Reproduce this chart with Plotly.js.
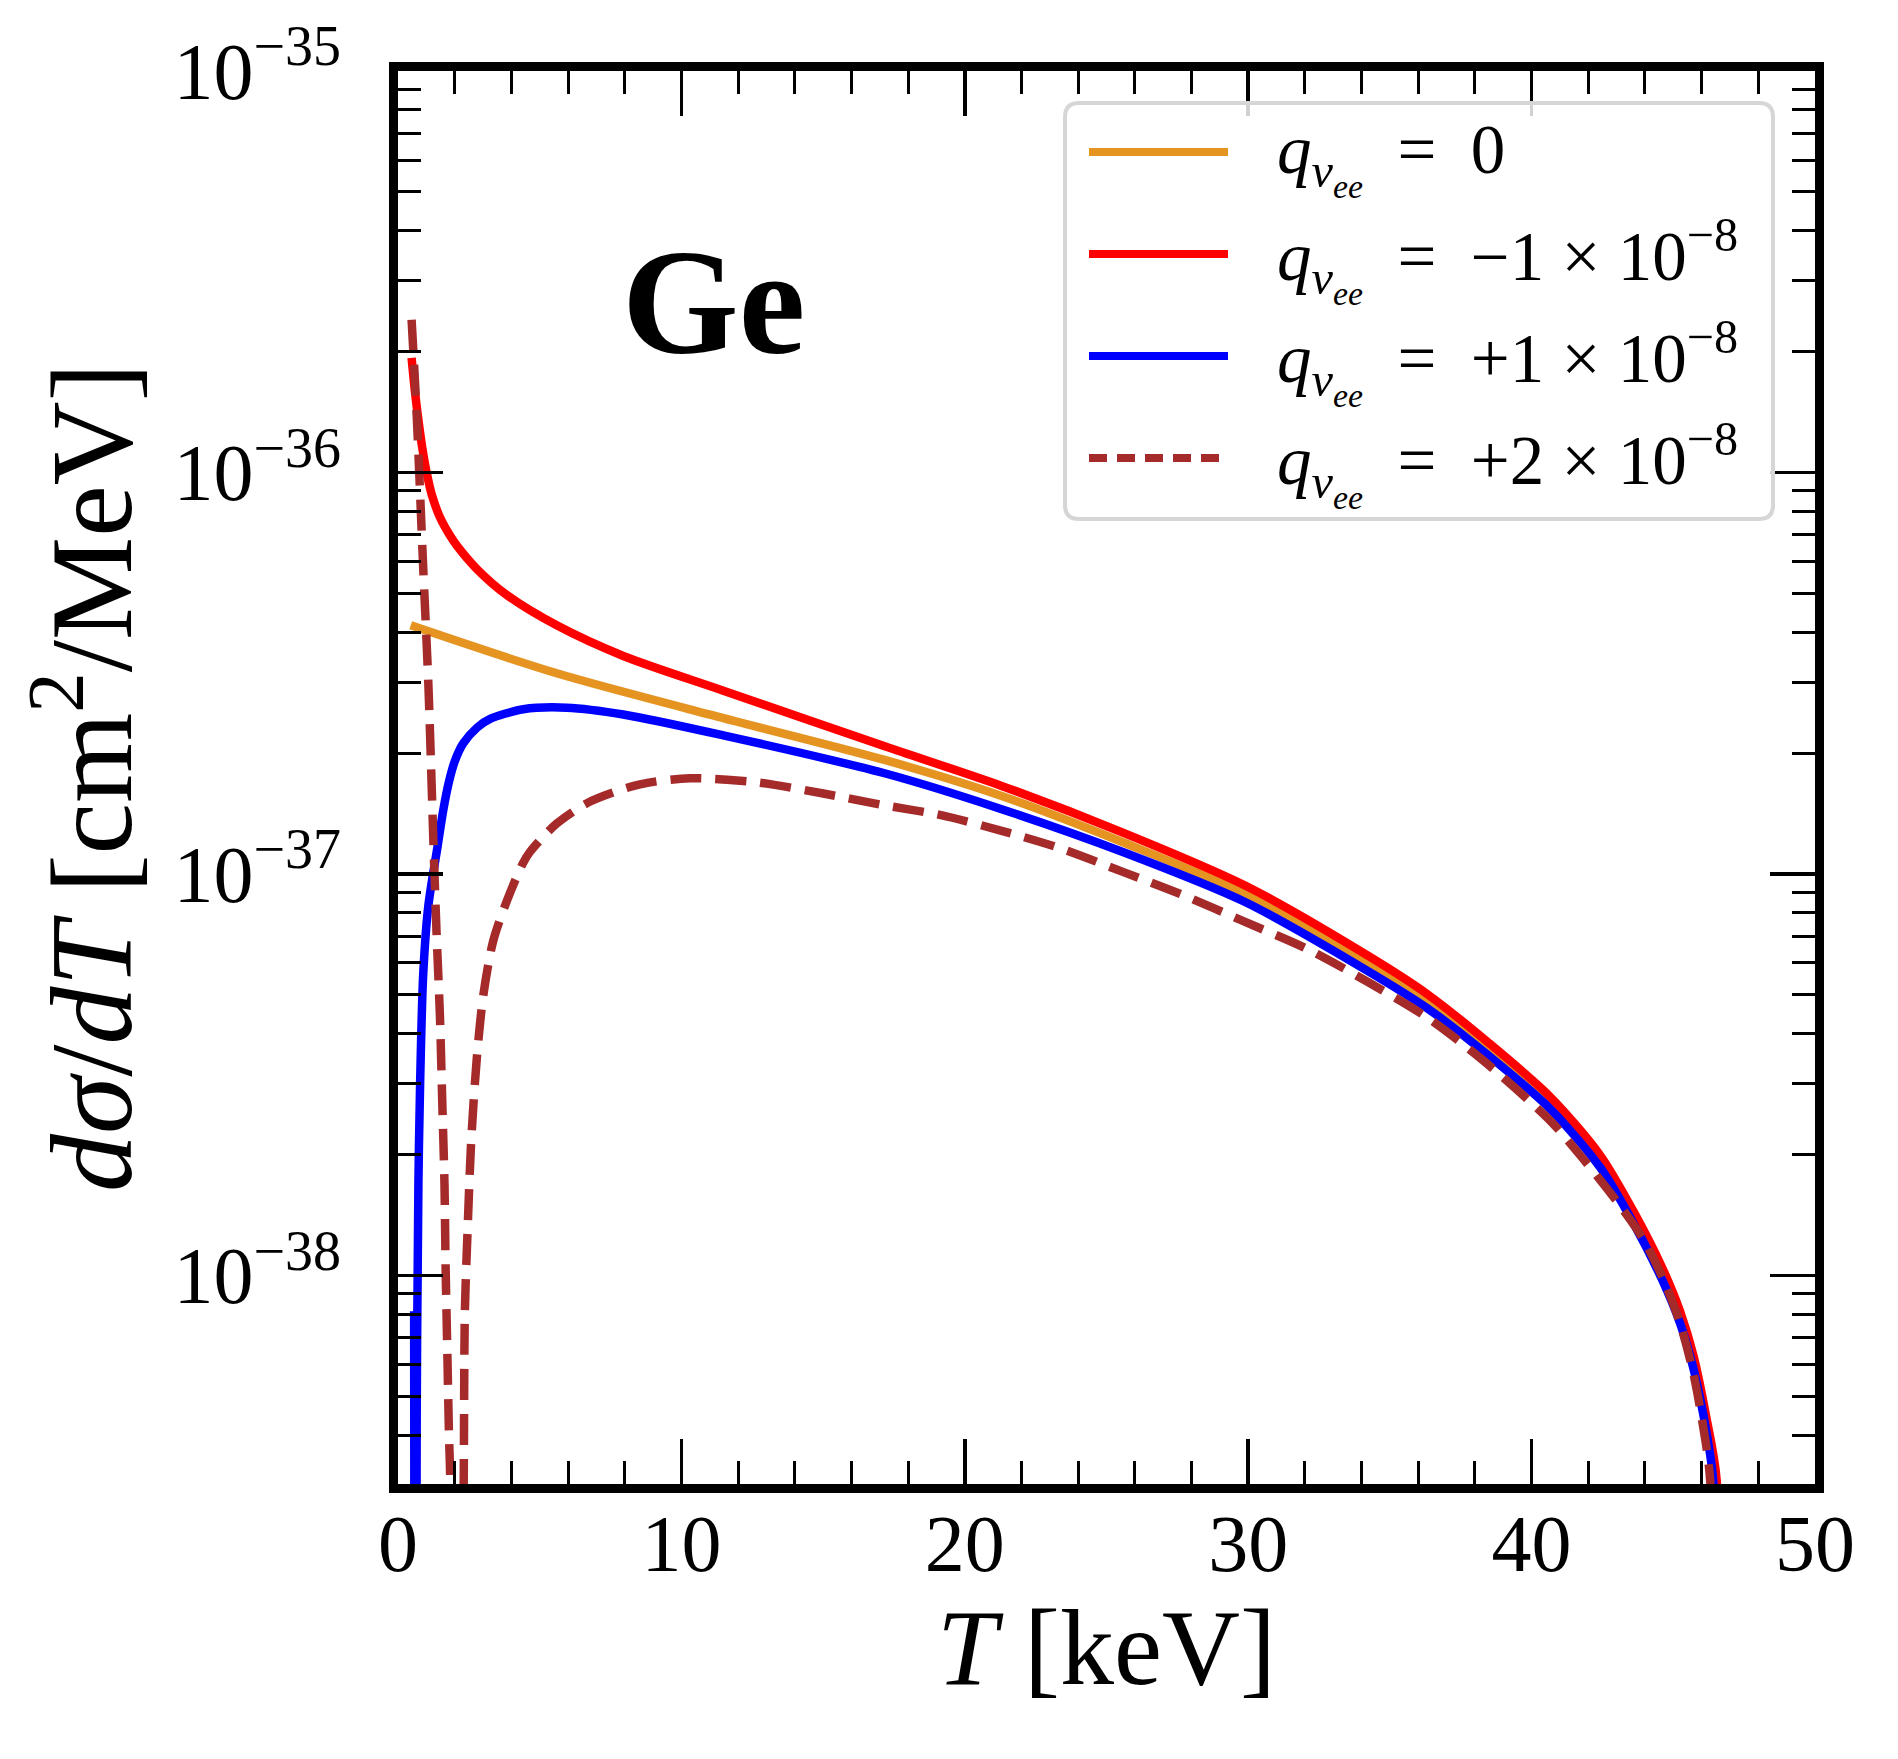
<!DOCTYPE html>
<html>
<head>
<meta charset="utf-8">
<script src="https://cdn.plot.ly/plotly-3.0.1.min.js"></script>
<style>html,body{margin:0;padding:0;background:#fff;}#chart{width:1898px;height:1759px;}</style>
</head>
<body>
<div id="chart"></div>
<script>
// ---- data (T in keV, dσ/dT in cm^2/MeV) ----
const seriesNames = ["q_0", "q_-1e-8", "q_+1e-8", "q_+2e-8"];
const legendLabels = [
  "<i>q</i><sub><i>ν<sub>ee</sub></i></sub>&nbsp; = &nbsp;0",
  "<i>q</i><sub><i>ν<sub>ee</sub></i></sub>&nbsp; = &nbsp;−1 × 10<sup>−8</sup>",
  "<i>q</i><sub><i>ν<sub>ee</sub></i></sub>&nbsp; = &nbsp;+1 × 10<sup>−8</sup>",
  "<i>q</i><sub><i>ν<sub>ee</sub></i></sub>&nbsp; = &nbsp;+2 × 10<sup>−8</sup>"
];

const tOrange = [0.45, 5.6, 11.48, 17.2, 21.3, 25.6, 29.89, 34.18, 36.33, 38.47, 40.65, 42.41, 43.59, 44.6, 45.24, 45.71, 46.18, 46.5, 46.65];
const sigOrange = [4.16e-37, 3.16e-37, 2.443e-37, 1.919e-37, 1.563e-37, 1.197e-37, 8.91e-38, 5.98e-38, 4.79e-38, 3.64e-38, 2.67e-38, 1.91e-38, 1.387e-38, 1.005e-38, 7.80e-39, 6.05e-39, 4.19e-39, 3.02e-39, 1e-40];

const tRed = [0.48, 0.6, 0.72, 0.85, 1.01, 1.19, 1.48, 1.84, 2.07, 2.78, 3.84, 5.6, 7.95, 11.48, 17.2, 21.3, 25.6, 29.89, 34.18, 36.33, 38.47, 40.65, 42.41, 43.59, 44.6, 45.24, 45.71, 46.18, 46.53, 46.65];
const sigRed = [1.93e-36, 1.585e-36, 1.35e-36, 1.16e-36, 1.0e-36, 8.81e-37, 7.73e-37, 6.95e-37, 6.58e-37, 5.75e-37, 4.95e-37, 4.16e-37, 3.49e-37, 2.86e-37, 2.075e-37, 1.656e-37, 1.265e-37, 9.35e-38, 6.28e-38, 5.01e-38, 3.80e-38, 2.786e-38, 1.995e-38, 1.445e-38, 1.047e-38, 8.13e-39, 6.31e-39, 4.37e-39, 3.09e-39, 1e-40];

const tBlue = [0.57, 0.615, 0.66, 0.72, 0.78, 0.89, 1.07, 1.4, 1.6, 1.8, 2.0, 2.3, 2.8, 3.25, 4.42, 5.95, 7.95, 11.48, 17.2, 21.3, 25.6, 29.89, 34.18, 36.33, 38.47, 40.65, 42.41, 43.59, 44.6, 45.24, 45.71, 46.18, 46.42, 46.6];
const sigBlue = [8.13e-39, 3.2e-41, 4.47e-39, 1.69e-38, 3.0e-38, 5.62e-38, 8.32e-38, 1.175e-37, 1.445e-37, 1.698e-37, 1.905e-37, 2.113e-37, 2.317e-37, 2.432e-37, 2.57e-37, 2.594e-37, 2.495e-37, 2.213e-37, 1.778e-37, 1.449e-37, 1.132e-37, 8.51e-38, 5.75e-38, 4.62e-38, 3.53e-38, 2.60e-38, 1.86e-38, 1.35e-38, 9.77e-39, 7.59e-39, 5.86e-39, 4.03e-39, 3.02e-39, 1e-40];

const tDash = [0.48, 0.66, 0.89, 1.07, 1.25, 1.36, 1.48, 1.56, 1.64, 1.68, 1.74, 1.8, 1.84, 2.08, 2.32, 2.36, 2.46, 2.58, 2.78, 3.01, 3.36, 3.86, 4.4, 4.66, 5.6, 6.78, 8.54, 10.31, 12.66, 15.01, 17.2, 19.16, 21.3, 23.45, 25.6, 27.74, 29.89, 32.04, 34.18, 36.33, 38.29, 40.65, 41.82, 43.0, 43.94, 44.65, 45.24, 45.71, 46.06, 46.3, 46.5];
const sigDash = [2.40e-36, 1.39e-36, 5.78e-37, 2.99e-37, 1.20e-37, 7.14e-38, 4.42e-38, 2.73e-38, 1.69e-38, 1.05e-38, 6.46e-39, 3.98e-39, 3.16e-39, 1e-41, 3.16e-39, 8.13e-39, 1.32e-38, 2.14e-38, 3.47e-38, 4.98e-38, 6.81e-38, 8.63e-38, 1.06e-37, 1.135e-37, 1.334e-37, 1.514e-37, 1.671e-37, 1.73e-37, 1.69e-37, 1.585e-37, 1.48e-37, 1.40e-37, 1.28e-37, 1.153e-37, 1.01e-37, 8.83e-38, 7.59e-38, 6.52e-38, 5.40e-38, 4.38e-38, 3.43e-38, 2.43e-38, 1.95e-38, 1.53e-38, 1.23e-38, 9.77e-39, 7.59e-39, 5.69e-39, 4.17e-39, 3.09e-39, 1e-40];

const xTickVals = [0, 10, 20, 30, 40, 50];
const yTickVals = [1e-38, 1e-37, 1e-36, 1e-35];
const yTickText = ["10<sup>−38</sup>", "10<sup>−37</sup>", "10<sup>−36</sup>", "10<sup>−35</sup>"];
const yMinorVals = [4e-39, 5e-39, 6e-39, 7e-39, 8e-39, 9e-39,
  2e-38, 3e-38, 4e-38, 5e-38, 6e-38, 7e-38, 8e-38, 9e-38,
  2e-37, 3e-37, 4e-37, 5e-37, 6e-37, 7e-37, 8e-37, 9e-37,
  2e-36, 3e-36, 4e-36, 5e-36, 6e-36, 7e-36, 8e-36, 9e-36];

const colors = ["#e69421", "#ff0000", "#0000ff", "#a52a2a"];
const dashes = ["solid", "solid", "solid", "31px,14px"];

// ---- traces ----
const xs = [tOrange, tRed, tBlue, tDash];
const ys = [sigOrange, sigRed, sigBlue, sigDash];
const traces = [0, 1, 2, 3].map(i => ({
  type: "scatter", mode: "lines", x: xs[i], y: ys[i], name: seriesNames[i],
  showlegend: false, cliponaxis: true,
  line: {color: colors[i], width: 8.5, dash: dashes[i], shape: "spline", smoothing: 0.8}
}));

// ---- geometry (px) ----
const W = 1898, H = 1759;
const L = 398, R = 1815, TOP = 71, BOT = 1484;
const pw = R - L, ph = BOT - TOP;
const px2x = p => (p - L) / pw;
const py2y = p => (BOT - p) / ph;
const P = (x, y) => px2x(x) + "," + py2y(y);

const shapes = [];
const annotations = [];
// legend frame (rounded)
const bx0 = 1065, bx1 = 1773, by0 = 103, by1 = 519, rr = 14;
const framePath = "M " + P(bx0 + rr, by0) + " L " + P(bx1 - rr, by0) + " Q " + P(bx1, by0) + " " + P(bx1, by0 + rr) +
  " L " + P(bx1, by1 - rr) + " Q " + P(bx1, by1) + " " + P(bx1 - rr, by1) +
  " L " + P(bx0 + rr, by1) + " Q " + P(bx0, by1) + " " + P(bx0, by1 - rr) +
  " L " + P(bx0, by0 + rr) + " Q " + P(bx0, by0) + " " + P(bx0 + rr, by0) + " Z";
shapes.push({type: "path", xref: "paper", yref: "paper", layer: "above", path: framePath,
  line: {color: "#d6d6d6", width: 4}, fillcolor: "rgba(255,255,255,0.82)"});
const rowY = [152, 254, 356, 458];
for (let i = 0; i < 4; i++) {
  shapes.push({type: "line", xref: "paper", yref: "paper", layer: "above",
    x0: px2x(1089), x1: px2x(1228), y0: py2y(rowY[i]), y1: py2y(rowY[i]),
    line: {color: colors[i], width: 8, dash: i === 3 ? "18px,10px" : "solid"}});
  annotations.push({xref: "paper", yref: "paper", x: px2x(1275), y: py2y(rowY[i] + 6),
    xanchor: "left", yanchor: "middle", showarrow: false, text: legendLabels[i],
    font: {family: "Liberation Serif", size: 69, color: "#000"}});
}
annotations.push({xref: "paper", yref: "paper", x: px2x(713), y: py2y(302),
  xanchor: "center", yanchor: "middle", showarrow: false, text: "<b>Ge</b>",
  font: {family: "Liberation Serif", size: 150, color: "#000"}});

const axisCommon = {
  showline: true, linecolor: "#000", linewidth: 9, mirror: "allticks",
  ticks: "inside", tickcolor: "#000", showgrid: false, zeroline: false,
  tickfont: {family: "Liberation Serif", size: 80, color: "#000"}
};

const layout = {
  width: W, height: H,
  margin: {l: L, r: W - R, t: TOP, b: H - BOT, pad: 0},
  paper_bgcolor: "#fff", plot_bgcolor: "#fff",
  showlegend: false,
  font: {family: "Liberation Serif", color: "#000"},
  xaxis: Object.assign({}, axisCommon, {
    range: [0, 50], tickmode: "array", tickvals: xTickVals,
    ticklen: 45, tickwidth: 3.5, ticklabelstandoff: -18,
    minor: {dtick: 2, tick0: 0, ticklen: 23, tickwidth: 3, tickcolor: "#000", ticks: "inside"},
    title: {text: "<i>T</i> [keV]", font: {family: "Liberation Serif", size: 108, color: "#000"}, standoff: 22}
  }),
  yaxis: Object.assign({}, axisCommon, {
    type: "log", range: [-38.52, -35], tickmode: "array", tickvals: yTickVals, ticktext: yTickText,
    ticklen: 45, tickwidth: 3.5, ticklabelstandoff: 32,
    minor: {tickmode: "array", tickvals: yMinorVals, ticklen: 23, tickwidth: 3, tickcolor: "#000", ticks: "inside"},
    title: {text: "<i>dσ</i>/<i>dT</i> [cm<sup>2</sup>/MeV]", font: {family: "Liberation Serif", size: 116, color: "#000"}, standoff: 6}
  }),
  shapes: shapes,
  annotations: annotations
};

Plotly.newPlot("chart", traces, layout, {staticPlot: true, displayModeBar: false});
</script>
</body>
</html>
